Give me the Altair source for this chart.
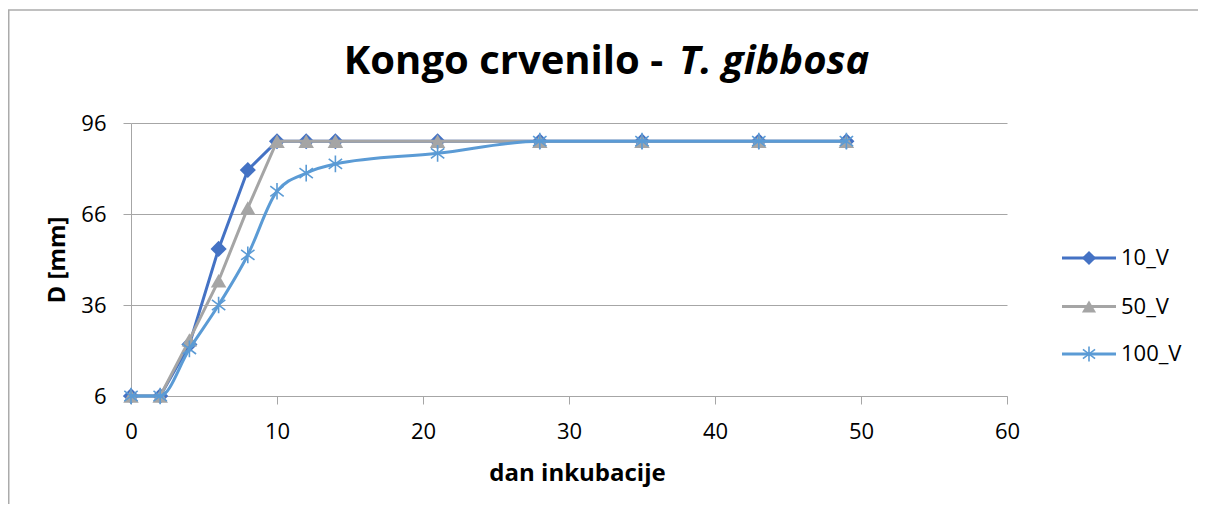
import altair as alt
import pandas as pd

# ---- data ----
days = [0, 2, 4, 6, 8, 10, 12, 14, 21, 28, 35, 43, 49]
d_10V = [6, 6, 23, 54.5, 80.5, 90, 90, 90, 90, 90, 90, 90, 90]
d_50V = [6, 6, 24.5, 44, 68, 90, 90, 90, 90, 90, 90, 90, 90]
d_100V = [6, 6, 21.5, 36, 52.5, 73.5, 79.5, 82.5, 86, 90, 90, 90, 90]
series_names = ["10_V", "50_V", "100_V"]
series_colors = ["#4472C4", "#A5A5A5", "#5B9BD5"]
y_ticks = [6, 36, 66, 96]
x_ticks = [0, 10, 20, 30, 40, 50, 60]
title_main = "Kongo crvenilo -"
title_species = "T. gibbosa"
x_title = "dan inkubacije"
y_title = "D [mm]"

rows = []
for name, vals in zip(series_names, [d_10V, d_50V, d_100V]):
    for d, v in zip(days, vals):
        rows.append({"dan": d, "D": v, "serija": name})
df = pd.DataFrame(rows)

FONT = "Open Sans"
GRAY = "#A6A6A6"
W, H = 876, 273
PAD = {"left": 123, "top": 115, "right": 191, "bottom": 108}

ASTER = "M0,-1L0,1M-0.8,-0.6L0.8,0.6M-0.8,0.6L0.8,-0.6"
point_shapes = ["diamond", "triangle-up", ASTER]
point_sizes = [260, 240, 280]

x_enc = alt.X(
    "dan:Q",
    scale=alt.Scale(domain=[0, 60], nice=False, zero=False),
    axis=alt.Axis(
        values=x_ticks, title=x_title, grid=False, tickSize=8,
        labelPadding=27, labelBaseline="middle", labelFlush=False,
        domainColor=GRAY, tickColor=GRAY,
        titleX=W / 2 + 8, titleY=77, titleBaseline="middle", titleAlign="center",
    ),
)
y_enc = alt.Y(
    "D:Q",
    scale=alt.Scale(domain=[6, 96], nice=False, zero=False),
    axis=alt.Axis(
        values=y_ticks, title=y_title, grid=True, gridColor=GRAY, tickSize=8,
        labelPadding=17, labelFlush=False, domainColor=GRAY, tickColor=GRAY,
        titleX=-74, titleY=H / 2, titleAngle=270, titleBaseline="middle", titleAlign="center",
    ),
)
color_scale = alt.Scale(domain=series_names, range=series_colors)
color_enc = alt.Color("serija:N", scale=color_scale, legend=None)

base = alt.Chart(df)
layers = []
for i, name in enumerate(series_names):
    sub = base.transform_filter(alt.datum.serija == name)
    interp = "monotone" if name == "100_V" else "linear"
    layers.append(sub.mark_line(strokeWidth=3, interpolate=interp).encode(x=x_enc, y=y_enc, color=color_enc))
    if point_shapes[i] == ASTER:
        pm = sub.mark_point(filled=False, shape=ASTER, size=point_sizes[i], strokeWidth=1.6, opacity=1)
    else:
        pm = sub.mark_point(filled=True, shape=point_shapes[i], size=point_sizes[i], opacity=1)
    layers.append(pm.encode(x=x_enc, y=y_enc, color=color_enc))

# ---- legend (drawn as marks, right of the plot) ----
LEG_X0, LEG_X1, LEG_MX, LEG_TX = 931, 985, 958, 990
leg_rows = [135, 183.5, 231]
legend_layers = []
for i, name in enumerate(series_names):
    ld = alt.Data(values=[{"serija": name}])
    lc = alt.Chart(ld)
    legend_layers.append(lc.mark_rule(strokeWidth=3).encode(
        x=alt.value(LEG_X0), x2=alt.value(LEG_X1), y=alt.value(leg_rows[i]), color=color_enc))
    if point_shapes[i] == ASTER:
        lm = lc.mark_point(filled=False, shape=ASTER, size=230, strokeWidth=1.6, opacity=1)
    else:
        lm = lc.mark_point(filled=True, shape=point_shapes[i], size=200, opacity=1)
    legend_layers.append(lm.encode(x=alt.value(LEG_MX), y=alt.value(leg_rows[i]), color=color_enc))
    legend_layers.append(lc.mark_text(font=FONT, fontSize=22, align="left", baseline="middle", color="black").encode(
        x=alt.value(LEG_TX), y=alt.value(leg_rows[i]), text="serija:N"))

one = alt.Data(values=[{"k": 1}])
title_a = alt.Chart(one).mark_text(font=FONT, fontSize=40, fontWeight="bold", align="right", baseline="middle", color="black").encode(
    x=alt.value(532), y=alt.value(-61), text=alt.value(title_main))
title_b = alt.Chart(one).mark_text(font=FONT, fontSize=40, fontWeight="bold", fontStyle="italic", align="left", baseline="middle", color="black").encode(
    x=alt.value(548), y=alt.value(-61), text=alt.value(title_species))
border_top = alt.Chart(one).mark_rule(color="#ABABAB", strokeWidth=1.5).encode(
    x=alt.value(-PAD["left"]), x2=alt.value(W + PAD["right"]), y=alt.value(-113))
border_left = alt.Chart(one).mark_rule(color="#ABABAB", strokeWidth=1.5).encode(
    x=alt.value(-PAD["left"] + 0.75), y=alt.value(-113), y2=alt.value(H + PAD["bottom"]))

chart = alt.layer(border_top, border_left, *layers, *legend_layers, title_a, title_b).properties(
    width=W, height=H,
    autosize=alt.AutoSizeParams(type="none"),
    padding=PAD,
).configure_view(stroke=None).configure_axis(
    labelFont=FONT, labelFontSize=22, labelColor="black",
    titleFont=FONT, titleFontSize=24, titleFontWeight="bold", titleColor="black",
)

chart.save("out.html", embed_options={"renderer": "svg", "actions": False})
